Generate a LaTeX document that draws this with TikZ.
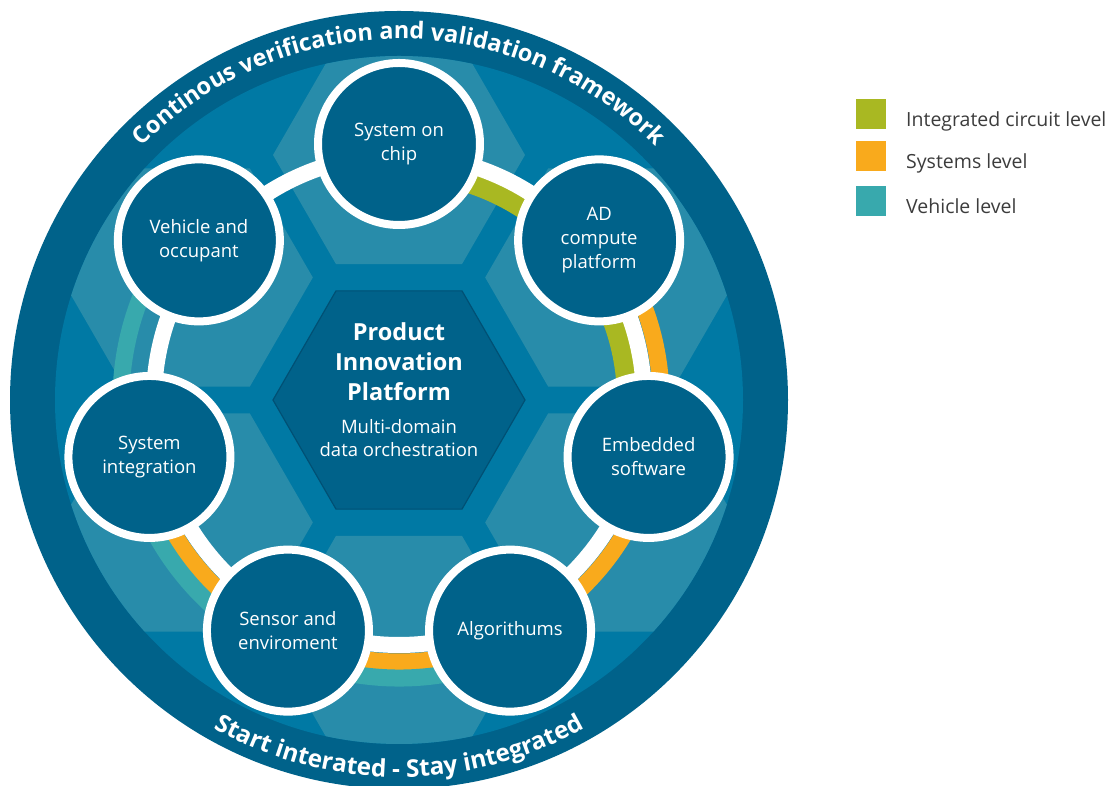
\documentclass[tikz,border=0pt]{standalone}
\usepackage{fontspec}
\setmainfont{Open Sans}
\usetikzlibrary{shapes.geometric,decorations.text}
\definecolor{ringblue}{RGB}{0,98,138}
\definecolor{midblue}{RGB}{0,121,164}
\definecolor{lightblue}{RGB}{40,140,170}
\definecolor{hexedge}{RGB}{0,80,116}
\definecolor{icgreen}{RGB}{169,184,34}
\definecolor{sysorange}{RGB}{249,170,28}
\definecolor{vehteal}{RGB}{56,169,173}
\definecolor{legtext}{RGB}{60,60,60}
\begin{document}
\begin{tikzpicture}[x=1pt,y=1pt,
  stage/.style={circle, draw=white, line width=8pt, fill=ringblue, minimum size=162pt, inner sep=0pt, text=white, align=center, font=\fontsize{18.5}{24}\selectfont},
  hexlight/.style={regular polygon, regular polygon sides=6, minimum size=252pt, inner sep=0pt, outer sep=0pt, fill=lightblue},
  hexcore/.style={regular polygon, regular polygon sides=6, minimum size=252pt, inner sep=0pt, outer sep=0pt, fill=ringblue, draw=hexedge, line width=1.2pt},
  titletxt/.style={anchor=base, inner sep=0pt, text=white, font=\fontsize{23.5}{30}\selectfont\bfseries},
  subtxt/.style={anchor=base, inner sep=0pt, text=white, font=\fontsize{18.5}{24}\selectfont},
  legsq/.style={fill=#1, minimum size=30pt, inner sep=0pt},
  legtxt/.style={anchor=base west, text=legtext, font=\fontsize{19.5}{23}\selectfont, inner sep=0pt},
]
\clip (0,0) rectangle (1112,786);
\coordinate (C) at (399,386);
% outer ring and inner field
\fill[ringblue] (C) circle (389);
\fill[midblue] (C) circle (344);
% honeycomb
\begin{scope}
  \clip (C) circle (344);
  \foreach \a in {30,90,150,210,270,330}
    \node[hexlight] (h\a) at ([shift={(\a:245)}]C) {};
\end{scope}
\node[hexcore] (core) at (C) {};
% level bands
\draw[icgreen, line width=20pt] ([shift={(90:228)}]C) arc[start angle=90, end angle=-12.857, radius=228];
\draw[sysorange, line width=17pt] ([shift={(38.571:262)}]C) arc[start angle=38.571, end angle=-167.143, radius=262];
\draw[vehteal, line width=17pt] ([shift={(-64.286:278)}]C) arc[start angle=-64.286, end angle=-218.571, radius=278];
\draw[white, line width=16pt] (C) circle (245);
% stages
\node[stage] (soc) at ([shift={(90:256)}]C) {System on\\chip};
\node[stage] (adc) at ([shift={(38.571:256)}]C) {AD\\compute\\platform};
\node[stage] (emb) at ([shift={(-12.857:256)}]C) {Embedded\\software};
\node[stage] (alg) at ([shift={(-64.286:256)}]C) {Algorithums};
\node[stage] (sen) at ([shift={(-115.714:256)}]C) {Sensor and\\enviroment};
\node[stage] (sys) at ([shift={(-167.143:256)}]C) {System\\integration};
\node[stage] (veh) at ([shift={(141.429:256)}]C) {Vehicle and\\occupant};
% center text
\node[titletxt] (t1) at (399,445) {Product};
\node[titletxt] (t2) at (399,415) {Innovation};
\node[titletxt] (t3) at (399,385) {Platform};
\node[subtxt] (t4) at (399,352) {Multi-domain};
\node[subtxt] (t5) at (399,329) {data orchestration};
% curved texts
\path[decorate, decoration={text along path, text align=center, text color=white,
  text={|\fontsize{23.5}{28}\selectfont\bfseries|Continous verification and validation framework}}]
  ([shift={(160:361)}]C) arc[start angle=160, end angle=20, radius=361];
\path[decorate, decoration={text along path, text align=center, text color=white,
  text={|\fontsize{24.3}{28}\selectfont\bfseries|Start interated - Stay integrated}}]
  ([shift={(200:377)}]C) arc[start angle=200, end angle=340, radius=377];
% legend
\node[legsq=icgreen] (lg1) at (871,672) {};
\node[legsq=sysorange] (lg2) at (871,630) {};
\node[legsq=vehteal] (lg3) at (871,585) {};
\node[legtxt] (lt1) at (906,659) {Integrated circuit level};
\node[legtxt] (lt2) at (906,617) {Systems level};
\node[legtxt] (lt3) at (906,572) {Vehicle level};
\end{tikzpicture}
\end{document}
